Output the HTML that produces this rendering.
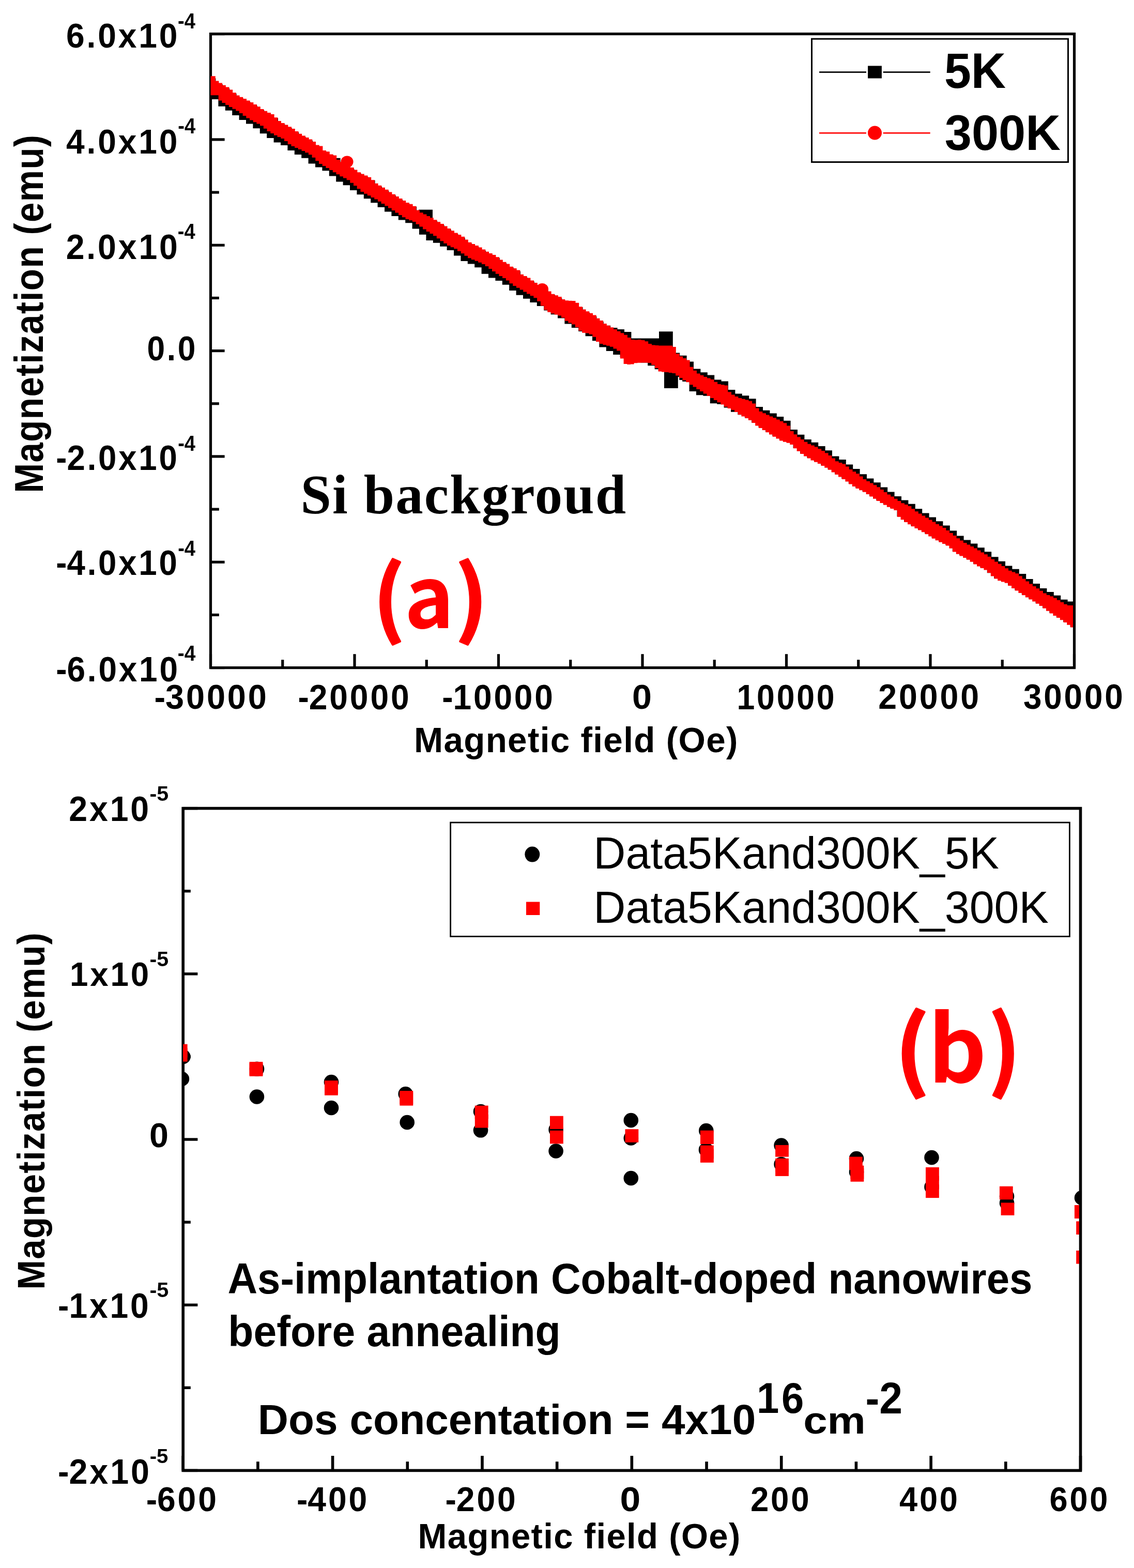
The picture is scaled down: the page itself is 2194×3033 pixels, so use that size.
<!DOCTYPE html>
<html><head><meta charset="utf-8"><title>Magnetization plots</title>
<style>html,body{margin:0;padding:0;background:#fff;}svg{display:block;}</style></head>
<body>
<svg width="2194" height="3033" viewBox="0 0 2194 3033">
<defs>
<clipPath id="ct"><rect x="407.5" y="65.6" width="1668.5" height="1223.4"/></clipPath>
<clipPath id="cb"><rect x="354.2" y="1563.6" width="1733.8" height="1278.2"/></clipPath>
</defs>
<rect width="2194" height="3033" fill="#fff"/>
<rect x="407.5" y="65.6" width="1671.0" height="1226.0" fill="none" stroke="#000" stroke-width="5.2"/>
<rect x="404.90" y="1265.20" width="5.20" height="26.40" fill="#000"/>
<rect x="544.15" y="1276.20" width="5.20" height="15.40" fill="#000"/>
<rect x="683.40" y="1265.20" width="5.20" height="26.40" fill="#000"/>
<rect x="822.65" y="1276.20" width="5.20" height="15.40" fill="#000"/>
<rect x="961.90" y="1265.20" width="5.20" height="26.40" fill="#000"/>
<rect x="1101.15" y="1276.20" width="5.20" height="15.40" fill="#000"/>
<rect x="1240.40" y="1265.20" width="5.20" height="26.40" fill="#000"/>
<rect x="1379.65" y="1276.20" width="5.20" height="15.40" fill="#000"/>
<rect x="1518.90" y="1265.20" width="5.20" height="26.40" fill="#000"/>
<rect x="1658.15" y="1276.20" width="5.20" height="15.40" fill="#000"/>
<rect x="1797.40" y="1265.20" width="5.20" height="26.40" fill="#000"/>
<rect x="1936.65" y="1276.20" width="5.20" height="15.40" fill="#000"/>
<rect x="2075.90" y="1265.20" width="5.20" height="26.40" fill="#000"/>
<rect x="407.50" y="1289.00" width="27.10" height="5.20" fill="#000"/>
<rect x="407.50" y="1186.83" width="16.30" height="5.20" fill="#000"/>
<rect x="407.50" y="1084.67" width="27.10" height="5.20" fill="#000"/>
<rect x="407.50" y="982.50" width="16.30" height="5.20" fill="#000"/>
<rect x="407.50" y="880.33" width="27.10" height="5.20" fill="#000"/>
<rect x="407.50" y="778.17" width="16.30" height="5.20" fill="#000"/>
<rect x="407.50" y="676.00" width="27.10" height="5.20" fill="#000"/>
<rect x="407.50" y="573.83" width="16.30" height="5.20" fill="#000"/>
<rect x="407.50" y="471.67" width="27.10" height="5.20" fill="#000"/>
<rect x="407.50" y="369.50" width="16.30" height="5.20" fill="#000"/>
<rect x="407.50" y="267.33" width="27.10" height="5.20" fill="#000"/>
<rect x="407.50" y="165.17" width="16.30" height="5.20" fill="#000"/>
<rect x="407.50" y="63.00" width="27.10" height="5.20" fill="#000"/>
<rect x="354.2" y="1563.6" width="1736.3" height="1280.8000000000002" fill="none" stroke="#000" stroke-width="5.6"/>
<rect x="351.40" y="2816.00" width="5.60" height="28.40" fill="#000"/>
<rect x="496.09" y="2827.20" width="5.60" height="17.20" fill="#000"/>
<rect x="640.78" y="2816.00" width="5.60" height="28.40" fill="#000"/>
<rect x="785.48" y="2827.20" width="5.60" height="17.20" fill="#000"/>
<rect x="930.17" y="2816.00" width="5.60" height="28.40" fill="#000"/>
<rect x="1074.86" y="2827.20" width="5.60" height="17.20" fill="#000"/>
<rect x="1219.55" y="2816.00" width="5.60" height="28.40" fill="#000"/>
<rect x="1364.24" y="2827.20" width="5.60" height="17.20" fill="#000"/>
<rect x="1508.93" y="2816.00" width="5.60" height="28.40" fill="#000"/>
<rect x="1653.62" y="2827.20" width="5.60" height="17.20" fill="#000"/>
<rect x="1798.32" y="2816.00" width="5.60" height="28.40" fill="#000"/>
<rect x="1943.01" y="2827.20" width="5.60" height="17.20" fill="#000"/>
<rect x="2087.70" y="2816.00" width="5.60" height="28.40" fill="#000"/>
<rect x="354.20" y="2841.70" width="28.20" height="5.40" fill="#000"/>
<rect x="354.20" y="2681.60" width="14.60" height="5.40" fill="#000"/>
<rect x="354.20" y="2521.50" width="28.20" height="5.40" fill="#000"/>
<rect x="354.20" y="2361.40" width="14.60" height="5.40" fill="#000"/>
<rect x="354.20" y="2201.30" width="28.20" height="5.40" fill="#000"/>
<rect x="354.20" y="2041.20" width="14.60" height="5.40" fill="#000"/>
<rect x="354.20" y="1881.10" width="28.20" height="5.40" fill="#000"/>
<rect x="354.20" y="1721.00" width="14.60" height="5.40" fill="#000"/>
<rect x="354.20" y="1560.90" width="28.20" height="5.40" fill="#000"/>
<g clip-path="url(#ct)">
<path d="M400.0,151.5 L417.4,151.5 L417.4,162.9 L430.8,162.9 L430.8,171.1 L444.2,171.1 L444.2,181.1 L457.6,181.1 L457.6,190.4 L471.0,190.4 L471.0,197.1 L484.4,197.1 L484.4,204.4 L497.8,204.4 L497.8,213.1 L511.2,213.1 L511.2,220.7 L524.6,220.7 L524.6,228.6 L538.0,228.6 L538.0,240.5 L551.4,240.5 L551.4,247.8 L564.8,247.8 L564.8,255.9 L578.2,255.9 L578.2,265.0 L591.6,265.0 L591.6,272.1 L605.0,272.1 L605.0,283.3 L618.4,283.3 L618.4,293.2 L631.8,293.2 L631.8,299.8 L645.2,299.8 L645.2,305.7 L658.6,305.7 L658.6,319.4 L672.0,319.4 L672.0,326.7 L685.4,326.7 L685.4,335.4 L698.8,335.4 L698.8,342.3 L712.2,342.3 L712.2,348.8 L725.6,348.8 L725.6,361.1 L739.0,361.1 L739.0,369.2 L752.4,369.2 L752.4,378.1 L765.8,378.1 L765.8,386.4 L779.2,386.4 L779.2,394.5 L792.6,394.5 L792.6,399.8 L806.0,399.8 L806.0,413.4 L819.4,413.4 L819.4,420.5 L832.8,420.5 L832.8,427.6 L846.2,427.6 L846.2,435.6 L859.6,435.6 L859.6,444.2 L873.0,444.2 L873.0,452.7 L886.4,452.7 L886.4,460.3 L899.8,460.3 L899.8,471.3 L913.2,471.3 L913.2,477.8 L926.6,477.8 L926.6,484.9 L940.0,484.9 L940.0,492.7 L953.4,492.7 L953.4,499.1 L966.8,499.1 L966.8,509.3 L980.2,509.3 L980.2,517.3 L993.6,517.3 L993.6,524.8 L1007.0,524.8 L1007.0,536.8 L1020.4,536.8 L1020.4,544.6 L1033.8,544.6 L1033.8,553.3 L1047.2,553.3 L1047.2,561.3 L1060.6,561.3 L1060.6,570.6 L1074.0,570.6 L1074.0,576.9 L1087.4,576.9 L1087.4,585.0 L1100.8,585.0 L1100.8,586.0 L1114.2,586.0 L1114.2,594.3 L1127.6,594.3 L1127.6,604.7 L1141.0,604.7 L1141.0,612.0 L1154.4,612.0 L1154.4,622.2 L1167.8,622.2 L1167.8,629.8 L1181.2,629.8 L1181.2,634.1 L1194.6,634.1 L1194.6,637.1 L1208.0,637.1 L1208.0,641.9 L1221.4,641.9 L1221.4,654.6 L1234.8,654.6 L1234.8,654.6 L1248.2,654.6 L1248.2,654.6 L1261.6,654.6 L1261.6,654.6 L1275.0,654.6 L1275.0,641.2 L1288.4,641.2 L1288.4,641.2 L1301.8,641.2 L1301.8,682.4 L1315.2,682.4 L1315.2,687.7 L1328.6,687.7 L1328.6,699.6 L1342.0,699.6 L1342.0,713.6 L1355.4,713.6 L1355.4,720.2 L1368.8,720.2 L1368.8,725.4 L1382.2,725.4 L1382.2,734.5 L1395.6,734.5 L1395.6,737.6 L1409.0,737.6 L1409.0,753.9 L1422.4,753.9 L1422.4,761.5 L1435.8,761.5 L1435.8,765.3 L1449.2,765.3 L1449.2,771.2 L1462.6,771.2 L1462.6,787.1 L1476.0,787.1 L1476.0,793.8 L1489.4,793.8 L1489.4,799.6 L1502.8,799.6 L1502.8,805.9 L1516.2,805.9 L1516.2,813.7 L1529.6,813.7 L1529.6,830.9 L1543.0,830.9 L1543.0,840.7 L1556.4,840.7 L1556.4,850.1 L1569.8,850.1 L1569.8,855.7 L1583.2,855.7 L1583.2,862.9 L1596.6,862.9 L1596.6,871.3 L1610.0,871.3 L1610.0,882.4 L1623.4,882.4 L1623.4,889.0 L1636.8,889.0 L1636.8,898.4 L1650.2,898.4 L1650.2,907.1 L1663.6,907.1 L1663.6,917.2 L1677.0,917.2 L1677.0,925.5 L1690.4,925.5 L1690.4,933.2 L1703.8,933.2 L1703.8,942.5 L1717.2,942.5 L1717.2,951.5 L1730.6,951.5 L1730.6,959.9 L1744.0,959.9 L1744.0,967.4 L1757.4,967.4 L1757.4,974.8 L1770.8,974.8 L1770.8,984.3 L1784.2,984.3 L1784.2,992.4 L1797.6,992.4 L1797.6,1000.4 L1811.0,1000.4 L1811.0,1008.3 L1824.4,1008.3 L1824.4,1016.4 L1837.8,1016.4 L1837.8,1026.5 L1851.2,1026.5 L1851.2,1036.4 L1864.6,1036.4 L1864.6,1044.6 L1878.0,1044.6 L1878.0,1051.4 L1891.4,1051.4 L1891.4,1059.3 L1904.8,1059.3 L1904.8,1067.2 L1918.2,1067.2 L1918.2,1077.3 L1931.6,1077.3 L1931.6,1085.8 L1945.0,1085.8 L1945.0,1094.5 L1958.4,1094.5 L1958.4,1100.7 L1971.8,1100.7 L1971.8,1109.9 L1985.2,1109.9 L1985.2,1120.1 L1998.6,1120.1 L1998.6,1129.0 L2012.0,1129.0 L2012.0,1138.1 L2025.4,1138.1 L2025.4,1144.9 L2038.8,1144.9 L2038.8,1151.7 L2052.2,1151.7 L2052.2,1159.7 L2065.6,1159.7 L2065.6,1163.5 L2079.0,1163.5 L2079.0,1163.5 L2085.0,1163.5 L2085.0,1217.6 L2084.0,1217.6 L2084.0,1212.6 L2070.6,1212.6 L2070.6,1203.1 L2057.2,1203.1 L2057.2,1194.0 L2043.8,1194.0 L2043.8,1185.5 L2030.4,1185.5 L2030.4,1176.1 L2017.0,1176.1 L2017.0,1166.7 L2003.6,1166.7 L2003.6,1158.4 L1990.2,1158.4 L1990.2,1150.2 L1976.8,1150.2 L1976.8,1141.5 L1963.4,1141.5 L1963.4,1132.3 L1950.0,1132.3 L1950.0,1123.6 L1936.6,1123.6 L1936.6,1118.7 L1923.2,1118.7 L1923.2,1108.2 L1909.8,1108.2 L1909.8,1097.6 L1896.4,1097.6 L1896.4,1090.5 L1883.0,1090.5 L1883.0,1081.3 L1869.6,1081.3 L1869.6,1074.1 L1856.2,1074.1 L1856.2,1066.7 L1842.8,1066.7 L1842.8,1054.1 L1829.4,1054.1 L1829.4,1047.2 L1816.0,1047.2 L1816.0,1040.5 L1802.6,1040.5 L1802.6,1032.0 L1789.2,1032.0 L1789.2,1024.2 L1775.8,1024.2 L1775.8,1016.9 L1762.4,1016.9 L1762.4,1009.0 L1749.0,1009.0 L1749.0,999.3 L1735.6,999.3 L1735.6,982.3 L1722.2,982.3 L1722.2,975.6 L1708.8,975.6 L1708.8,967.8 L1695.4,967.8 L1695.4,959.4 L1682.0,959.4 L1682.0,950.7 L1668.6,950.7 L1668.6,943.4 L1655.2,943.4 L1655.2,935.5 L1641.8,935.5 L1641.8,926.1 L1628.4,926.1 L1628.4,917.2 L1615.0,917.2 L1615.0,907.9 L1601.6,907.9 L1601.6,899.6 L1588.2,899.6 L1588.2,892.3 L1574.8,892.3 L1574.8,885.3 L1561.4,885.3 L1561.4,877.2 L1548.0,877.2 L1548.0,866.7 L1534.6,866.7 L1534.6,854.6 L1521.2,854.6 L1521.2,850.8 L1507.8,850.8 L1507.8,843.5 L1494.4,843.5 L1494.4,835.2 L1481.0,835.2 L1481.0,826.8 L1467.6,826.8 L1467.6,817.5 L1454.2,817.5 L1454.2,807.8 L1440.8,807.8 L1440.8,802.2 L1427.4,802.2 L1427.4,796.8 L1414.0,796.8 L1414.0,788.5 L1400.6,788.5 L1400.6,781.7 L1387.2,781.7 L1387.2,780.2 L1373.8,780.2 L1373.8,765.8 L1360.4,765.8 L1360.4,764.2 L1347.0,764.2 L1347.0,757.0 L1333.6,757.0 L1333.6,738.1 L1320.2,738.1 L1320.2,729.0 L1306.8,729.0 L1306.8,720.1 L1293.4,720.1 L1293.4,719.1 L1280.0,719.1 L1280.0,714.3 L1266.6,714.3 L1266.6,707.2 L1253.2,707.2 L1253.2,701.6 L1239.8,701.6 L1239.8,698.6 L1226.4,698.6 L1226.4,694.5 L1213.0,694.5 L1213.0,690.4 L1199.6,690.4 L1199.6,686.0 L1186.2,686.0 L1186.2,678.9 L1172.8,678.9 L1172.8,671.5 L1159.4,671.5 L1159.4,659.3 L1146.0,659.3 L1146.0,650.3 L1132.6,650.3 L1132.6,641.1 L1119.2,641.1 L1119.2,633.9 L1105.8,633.9 L1105.8,626.6 L1092.4,626.6 L1092.4,615.5 L1079.0,615.5 L1079.0,608.2 L1065.6,608.2 L1065.6,600.6 L1052.2,600.6 L1052.2,591.9 L1038.8,591.9 L1038.8,584.9 L1025.4,584.9 L1025.4,577.7 L1012.0,577.7 L1012.0,570.8 L998.6,570.8 L998.6,561.9 L985.2,561.9 L985.2,550.7 L971.8,550.7 L971.8,542.9 L958.4,542.9 L958.4,537.4 L945.0,537.4 L945.0,529.8 L931.6,529.8 L931.6,517.2 L918.2,517.2 L918.2,510.6 L904.8,510.6 L904.8,505.1 L891.4,505.1 L891.4,494.6 L878.0,494.6 L878.0,483.9 L864.6,483.9 L864.6,476.8 L851.2,476.8 L851.2,469.7 L837.8,469.7 L837.8,465.1 L824.4,465.1 L824.4,453.7 L811.0,453.7 L811.0,442.5 L797.6,442.5 L797.6,431.2 L784.2,431.2 L784.2,425.6 L770.8,425.6 L770.8,417.9 L757.4,417.9 L757.4,409.5 L744.0,409.5 L744.0,400.8 L730.6,400.8 L730.6,392.3 L717.2,392.3 L717.2,384.3 L703.8,384.3 L703.8,376.3 L690.4,376.3 L690.4,368.0 L677.0,368.0 L677.0,358.3 L663.6,358.3 L663.6,351.5 L650.2,351.5 L650.2,340.5 L636.8,340.5 L636.8,330.2 L623.4,330.2 L623.4,323.5 L610.0,323.5 L610.0,316.4 L596.6,316.4 L596.6,305.7 L583.2,305.7 L583.2,299.1 L569.8,299.1 L569.8,291.0 L556.4,291.0 L556.4,280.9 L543.0,280.9 L543.0,275.4 L529.6,275.4 L529.6,267.0 L516.2,267.0 L516.2,258.2 L502.8,258.2 L502.8,248.3 L489.4,248.3 L489.4,239.4 L476.0,239.4 L476.0,231.9 L462.6,231.9 L462.6,223.0 L449.2,223.0 L449.2,213.7 L435.8,213.7 L435.8,205.8 L422.4,205.8 L422.4,192.1 L400.0,192.1Z" fill="#000"/>
<rect x="1285" y="719.2" width="26.8" height="31.7" fill="#000"/>
<rect x="1314.3" y="726.5" width="8.5" height="8.5" fill="#000"/>
<rect x="810" y="405.6" width="27" height="24" fill="#000"/>
<path d="M400.0,147.2 L416.7,147.2 L416.7,156.4 L423.4,156.4 L423.4,160.6 L430.1,160.6 L430.1,164.7 L436.8,164.7 L436.8,168.6 L443.5,168.6 L443.5,173.6 L450.2,173.6 L450.2,179.3 L456.9,179.3 L456.9,184.4 L463.6,184.4 L463.6,187.8 L470.3,187.8 L470.3,191.1 L477.0,191.1 L477.0,194.5 L483.7,194.5 L483.7,198.0 L490.4,198.0 L490.4,202.0 L497.1,202.0 L497.1,206.2 L503.8,206.2 L503.8,211.0 L510.5,211.0 L510.5,214.8 L517.2,214.8 L517.2,217.9 L523.9,217.9 L523.9,221.0 L530.6,221.0 L530.6,227.2 L537.3,227.2 L537.3,233.9 L544.0,233.9 L544.0,238.0 L550.7,238.0 L550.7,241.6 L557.4,241.6 L557.4,245.3 L564.1,245.3 L564.1,248.9 L570.8,248.9 L570.8,254.0 L577.5,254.0 L577.5,258.8 L584.2,258.8 L584.2,262.4 L590.9,262.4 L590.9,265.9 L597.6,265.9 L597.6,269.4 L604.3,269.4 L604.3,274.1 L611.0,274.1 L611.0,280.6 L617.7,280.6 L617.7,282.6 L624.4,282.6 L624.4,290.9 L631.1,290.9 L631.1,293.2 L637.8,293.2 L637.8,298.5 L644.5,298.5 L644.5,300.6 L651.2,300.6 L651.2,308.9 L657.9,308.9 L657.9,313.2 L664.6,313.2 L664.6,316.8 L671.3,316.8 L671.3,320.5 L678.0,320.5 L678.0,324.1 L684.7,324.1 L684.7,328.5 L691.4,328.5 L691.4,333.3 L698.1,333.3 L698.1,336.4 L704.8,336.4 L704.8,339.5 L711.5,339.5 L711.5,342.7 L718.2,342.7 L718.2,348.2 L724.9,348.2 L724.9,354.7 L731.6,354.7 L731.6,358.7 L738.3,358.7 L738.3,362.7 L745.0,362.7 L745.0,366.8 L751.7,366.8 L751.7,371.4 L758.4,371.4 L758.4,375.8 L765.1,375.8 L765.1,380.1 L771.8,380.1 L771.8,384.0 L778.5,384.0 L778.5,388.0 L785.2,388.0 L785.2,392.1 L791.9,392.1 L791.9,394.8 L798.6,394.8 L798.6,398.7 L805.3,398.7 L805.3,406.6 L812.0,406.6 L812.0,411.2 L818.7,411.2 L818.7,414.5 L825.4,414.5 L825.4,417.9 L832.1,417.9 L832.1,421.2 L838.8,421.2 L838.8,425.2 L845.5,425.2 L845.5,429.2 L852.2,429.2 L852.2,433.1 L858.9,433.1 L858.9,437.4 L865.6,437.4 L865.6,442.0 L872.3,442.0 L872.3,446.2 L879.0,446.2 L879.0,450.4 L885.7,450.4 L885.7,454.1 L892.4,454.1 L892.4,457.8 L899.1,457.8 L899.1,463.6 L905.8,463.6 L905.8,468.8 L912.5,468.8 L912.5,471.9 L919.2,471.9 L919.2,475.0 L925.9,475.0 L925.9,478.4 L932.6,478.4 L932.6,482.5 L939.3,482.5 L939.3,486.7 L946.0,486.7 L946.0,489.9 L952.7,489.9 L952.7,493.0 L959.4,493.0 L959.4,497.2 L966.1,497.2 L966.1,502.5 L972.8,502.5 L972.8,506.7 L979.5,506.7 L979.5,510.4 L986.2,510.4 L986.2,515.7 L992.9,515.7 L992.9,519.0 L999.6,519.0 L999.6,522.5 L1006.3,522.5 L1006.3,530.8 L1013.0,530.8 L1013.0,534.1 L1019.7,534.1 L1019.7,537.6 L1026.4,537.6 L1026.4,542.6 L1033.1,542.6 L1033.1,547.0 L1039.8,547.0 L1039.8,550.9 L1046.5,550.9 L1046.5,554.9 L1053.2,554.9 L1053.2,558.9 L1059.9,558.9 L1059.9,563.6 L1066.6,563.6 L1066.6,568.7 L1073.3,568.7 L1073.3,571.3 L1080.0,571.3 L1080.0,574.0 L1086.7,574.0 L1086.7,579.1 L1093.4,579.1 L1093.4,581.2 L1100.1,581.2 L1100.1,581.7 L1106.8,581.7 L1106.8,582.1 L1113.5,582.1 L1113.5,585.8 L1120.2,585.8 L1120.2,593.2 L1126.9,593.2 L1126.9,598.5 L1133.6,598.5 L1133.6,602.2 L1140.3,602.2 L1140.3,605.8 L1147.0,605.8 L1147.0,609.6 L1153.7,609.6 L1153.7,615.8 L1160.4,615.8 L1160.4,619.9 L1167.1,619.9 L1167.1,626.1 L1173.8,626.1 L1173.8,629.7 L1180.5,629.7 L1180.5,633.3 L1187.2,633.3 L1187.2,637.1 L1193.9,637.1 L1193.9,640.7 L1200.6,640.7 L1200.6,644.3 L1207.3,644.3 L1207.3,647.8 L1214.0,647.8 L1214.0,652.9 L1220.7,652.9 L1220.7,656.9 L1227.4,656.9 L1227.4,657.4 L1234.1,657.4 L1234.1,657.1 L1240.8,657.1 L1240.8,657.9 L1247.5,657.9 L1247.5,660.3 L1254.2,660.3 L1254.2,665.1 L1260.9,665.1 L1260.9,667.6 L1267.6,667.6 L1267.6,668.1 L1274.3,668.1 L1274.3,668.5 L1281.0,668.5 L1281.0,668.6 L1287.7,668.6 L1287.7,668.6 L1294.4,668.6 L1294.4,668.6 L1301.1,668.6 L1301.1,671.1 L1307.8,671.1 L1307.8,684.2 L1314.5,684.2 L1314.5,689.3 L1321.2,689.3 L1321.2,692.9 L1327.9,692.9 L1327.9,696.6 L1334.6,696.6 L1334.6,709.8 L1341.3,709.8 L1341.3,716.8 L1348.0,716.8 L1348.0,722.5 L1354.7,722.5 L1354.7,725.7 L1361.4,725.7 L1361.4,728.9 L1368.1,728.9 L1368.1,731.4 L1374.8,731.4 L1374.8,733.9 L1381.5,733.9 L1381.5,738.8 L1388.2,738.8 L1388.2,743.0 L1394.9,743.0 L1394.9,744.3 L1401.6,744.3 L1401.6,745.6 L1408.3,745.6 L1408.3,758.3 L1415.0,758.3 L1415.0,763.4 L1421.7,763.4 L1421.7,766.9 L1428.4,766.9 L1428.4,770.1 L1435.1,770.1 L1435.1,771.8 L1441.8,771.8 L1441.8,773.5 L1448.5,773.5 L1448.5,775.7 L1455.2,775.7 L1455.2,780.6 L1461.9,780.6 L1461.9,789.4 L1468.6,789.4 L1468.6,795.9 L1475.3,795.9 L1475.3,799.3 L1482.0,799.3 L1482.0,802.4 L1488.7,802.4 L1488.7,805.4 L1495.4,805.4 L1495.4,808.3 L1502.1,808.3 L1502.1,811.4 L1508.8,811.4 L1508.8,814.7 L1515.5,814.7 L1515.5,818.3 L1522.2,818.3 L1522.2,823.6 L1528.9,823.6 L1528.9,833.9 L1535.6,833.9 L1535.6,840.3 L1542.3,840.3 L1542.3,845.2 L1549.0,845.2 L1549.0,850.1 L1555.7,850.1 L1555.7,854.8 L1562.4,854.8 L1562.4,858.7 L1569.1,858.7 L1569.1,861.5 L1575.8,861.5 L1575.8,864.6 L1582.5,864.6 L1582.5,868.2 L1589.2,868.2 L1589.2,872.0 L1595.9,872.0 L1595.9,876.3 L1602.6,876.3 L1602.6,880.9 L1609.3,880.9 L1609.3,886.5 L1616.0,886.5 L1616.0,892.2 L1622.7,892.2 L1622.7,895.0 L1629.4,895.0 L1629.4,897.4 L1636.1,897.4 L1636.1,902.6 L1642.8,902.6 L1642.8,908.1 L1649.5,908.1 L1649.5,912.2 L1656.2,912.2 L1656.2,916.2 L1662.9,916.2 L1662.9,921.4 L1669.6,921.4 L1669.6,926.9 L1676.3,926.9 L1676.3,930.8 L1683.0,930.8 L1683.0,934.4 L1689.7,934.4 L1689.7,938.3 L1696.4,938.3 L1696.4,942.3 L1703.1,942.3 L1703.1,947.0 L1709.8,947.0 L1709.8,952.0 L1716.5,952.0 L1716.5,956.5 L1723.2,956.5 L1723.2,960.6 L1729.9,960.6 L1729.9,964.7 L1736.6,964.7 L1736.6,969.1 L1743.3,969.1 L1743.3,973.2 L1750.0,973.2 L1750.0,976.0 L1756.7,976.0 L1756.7,979.1 L1763.4,979.1 L1763.4,984.3 L1770.1,984.3 L1770.1,989.3 L1776.8,989.3 L1776.8,993.4 L1783.5,993.4 L1783.5,997.5 L1790.2,997.5 L1790.2,1001.4 L1796.9,1001.4 L1796.9,1005.4 L1803.6,1005.4 L1803.6,1009.6 L1810.3,1009.6 L1810.3,1013.7 L1817.0,1013.7 L1817.0,1017.3 L1823.7,1017.3 L1823.7,1020.9 L1830.4,1020.9 L1830.4,1025.9 L1837.1,1025.9 L1837.1,1030.9 L1843.8,1030.9 L1843.8,1036.0 L1850.5,1036.0 L1850.5,1041.2 L1857.2,1041.2 L1857.2,1045.6 L1863.9,1045.6 L1863.9,1049.9 L1870.6,1049.9 L1870.6,1053.5 L1877.3,1053.5 L1877.3,1056.9 L1884.0,1056.9 L1884.0,1060.5 L1890.7,1060.5 L1890.7,1064.4 L1897.4,1064.4 L1897.4,1068.4 L1904.1,1068.4 L1904.1,1072.3 L1910.8,1072.3 L1910.8,1076.7 L1917.5,1076.7 L1917.5,1081.7 L1924.2,1081.7 L1924.2,1086.5 L1930.9,1086.5 L1930.9,1090.7 L1937.6,1090.7 L1937.6,1095.0 L1944.3,1095.0 L1944.3,1099.3 L1951.0,1099.3 L1951.0,1103.7 L1957.7,1103.7 L1957.7,1106.5 L1964.4,1106.5 L1964.4,1109.2 L1971.1,1109.2 L1971.1,1114.2 L1977.8,1114.2 L1977.8,1119.5 L1984.5,1119.5 L1984.5,1124.6 L1991.2,1124.6 L1991.2,1129.6 L1997.9,1129.6 L1997.9,1134.0 L2004.6,1134.0 L2004.6,1138.2 L2011.3,1138.2 L2011.3,1142.8 L2018.0,1142.8 L2018.0,1147.4 L2024.7,1147.4 L2024.7,1150.9 L2031.4,1150.9 L2031.4,1153.4 L2038.1,1153.4 L2038.1,1156.8 L2044.8,1156.8 L2044.8,1160.8 L2051.5,1160.8 L2051.5,1164.8 L2058.2,1164.8 L2058.2,1168.8 L2064.9,1168.8 L2064.9,1171.0 L2071.6,1171.0 L2071.6,1171.0 L2078.3,1171.0 L2078.3,1171.0 L2085.0,1171.0 L2085.0,1220.8 L2084.3,1220.8 L2084.3,1218.2 L2077.6,1218.2 L2077.6,1213.5 L2070.9,1213.5 L2070.9,1208.7 L2064.2,1208.7 L2064.2,1203.9 L2057.5,1203.9 L2057.5,1199.2 L2050.8,1199.2 L2050.8,1195.1 L2044.1,1195.1 L2044.1,1190.9 L2037.4,1190.9 L2037.4,1186.4 L2030.7,1186.4 L2030.7,1181.8 L2024.0,1181.8 L2024.0,1176.8 L2017.3,1176.8 L2017.3,1172.0 L2010.6,1172.0 L2010.6,1167.7 L2003.9,1167.7 L2003.9,1163.6 L1997.2,1163.6 L1997.2,1159.6 L1990.5,1159.6 L1990.5,1155.5 L1983.8,1155.5 L1983.8,1151.2 L1977.1,1151.2 L1977.1,1146.9 L1970.4,1146.9 L1970.4,1142.5 L1963.7,1142.5 L1963.7,1138.0 L1957.0,1138.0 L1957.0,1132.9 L1950.3,1132.9 L1950.3,1127.8 L1943.6,1127.8 L1943.6,1125.6 L1936.9,1125.6 L1936.9,1123.3 L1930.2,1123.3 L1930.2,1119.4 L1923.5,1119.4 L1923.5,1114.4 L1916.8,1114.4 L1916.8,1108.0 L1910.1,1108.0 L1910.1,1102.6 L1903.4,1102.6 L1903.4,1099.0 L1896.7,1099.0 L1896.7,1095.4 L1890.0,1095.4 L1890.0,1091.4 L1883.3,1091.4 L1883.3,1086.7 L1876.6,1086.7 L1876.6,1082.7 L1869.9,1082.7 L1869.9,1079.1 L1863.2,1079.1 L1863.2,1075.4 L1856.5,1075.4 L1856.5,1071.7 L1849.8,1071.7 L1849.8,1067.4 L1843.1,1067.4 L1843.1,1060.7 L1836.4,1060.7 L1836.4,1055.4 L1829.7,1055.4 L1829.7,1052.1 L1823.0,1052.1 L1823.0,1048.7 L1816.3,1048.7 L1816.3,1045.3 L1809.6,1045.3 L1809.6,1041.7 L1802.9,1041.7 L1802.9,1037.4 L1796.2,1037.4 L1796.2,1033.2 L1789.5,1033.2 L1789.5,1029.3 L1782.8,1029.3 L1782.8,1025.5 L1776.1,1025.5 L1776.1,1021.9 L1769.4,1021.9 L1769.4,1018.3 L1762.7,1018.3 L1762.7,1014.2 L1756.0,1014.2 L1756.0,1010.1 L1749.3,1010.1 L1749.3,1005.3 L1742.6,1005.3 L1742.6,999.8 L1735.9,999.8 L1735.9,986.9 L1729.2,986.9 L1729.2,983.9 L1722.5,983.9 L1722.5,980.7 L1715.8,980.7 L1715.8,976.8 L1709.1,976.8 L1709.1,972.9 L1702.4,972.9 L1702.4,969.0 L1695.7,969.0 L1695.7,964.8 L1689.0,964.8 L1689.0,960.4 L1682.3,960.4 L1682.3,956.1 L1675.6,956.1 L1675.6,951.7 L1668.9,951.7 L1668.9,948.2 L1662.2,948.2 L1662.2,944.9 L1655.5,944.9 L1655.5,941.1 L1648.8,941.1 L1648.8,936.4 L1642.1,936.4 L1642.1,931.6 L1635.4,931.6 L1635.4,927.0 L1628.7,927.0 L1628.7,922.6 L1622.0,922.6 L1622.0,918.1 L1615.3,918.1 L1615.3,913.5 L1608.6,913.5 L1608.6,908.8 L1601.9,908.8 L1601.9,904.7 L1595.2,904.7 L1595.2,900.9 L1588.5,900.9 L1588.5,897.1 L1581.8,897.1 L1581.8,893.8 L1575.1,893.8 L1575.1,890.4 L1568.4,890.4 L1568.4,886.4 L1561.7,886.4 L1561.7,882.4 L1555.0,882.4 L1555.0,878.1 L1548.3,878.1 L1548.3,872.7 L1541.6,872.7 L1541.6,867.3 L1534.9,867.3 L1534.9,860.0 L1528.2,860.0 L1528.2,856.7 L1521.5,856.7 L1521.5,854.8 L1514.8,854.8 L1514.8,852.5 L1508.1,852.5 L1508.1,848.6 L1501.4,848.6 L1501.4,844.7 L1494.7,844.7 L1494.7,840.5 L1488.0,840.5 L1488.0,836.3 L1481.3,836.3 L1481.3,832.1 L1474.6,832.1 L1474.6,827.9 L1467.9,827.9 L1467.9,823.5 L1461.2,823.5 L1461.2,818.0 L1454.5,818.0 L1454.5,812.7 L1447.8,812.7 L1447.8,809.1 L1441.1,809.1 L1441.1,805.6 L1434.4,805.6 L1434.4,802.0 L1427.7,802.0 L1427.7,797.0 L1421.0,797.0 L1421.0,793.1 L1414.3,793.1 L1414.3,790.0 L1407.6,790.0 L1407.6,786.7 L1400.9,786.7 L1400.9,782.5 L1394.2,782.5 L1394.2,778.3 L1387.5,778.3 L1387.5,774.1 L1380.8,774.1 L1380.8,769.9 L1374.1,769.9 L1374.1,765.7 L1367.4,765.7 L1367.4,761.4 L1360.7,761.4 L1360.7,757.1 L1354.0,757.1 L1354.0,752.9 L1347.3,752.9 L1347.3,748.6 L1340.6,748.6 L1340.6,744.3 L1333.9,744.3 L1333.9,739.2 L1327.2,739.2 L1327.2,735.6 L1320.5,735.6 L1320.5,731.1 L1313.8,731.1 L1313.8,726.4 L1307.1,726.4 L1307.1,722.1 L1300.4,722.1 L1300.4,720.9 L1293.7,720.9 L1293.7,720.0 L1287.0,720.0 L1287.0,719.4 L1280.3,719.4 L1280.3,718.5 L1273.6,718.5 L1273.6,712.1 L1266.9,712.1 L1266.9,706.1 L1260.2,706.1 L1260.2,702.0 L1253.5,702.0 L1253.5,701.5 L1246.8,701.5 L1246.8,701.5 L1240.1,701.5 L1240.1,701.7 L1233.4,701.7 L1233.4,702.2 L1226.7,702.2 L1226.7,704.4 L1220.0,704.4 L1220.0,705.0 L1213.3,705.0 L1213.3,703.9 L1206.6,703.9 L1206.6,693.4 L1199.9,693.4 L1199.9,678.5 L1193.2,678.5 L1193.2,674.6 L1186.5,674.6 L1186.5,670.7 L1179.8,670.7 L1179.8,668.8 L1173.1,668.8 L1173.1,667.0 L1166.4,667.0 L1166.4,664.9 L1159.7,664.9 L1159.7,661.1 L1153.0,661.1 L1153.0,651.8 L1146.3,651.8 L1146.3,646.7 L1139.6,646.7 L1139.6,644.6 L1132.9,644.6 L1132.9,643.7 L1126.2,643.7 L1126.2,639.7 L1119.5,639.7 L1119.5,633.0 L1112.8,633.0 L1112.8,627.6 L1106.1,627.6 L1106.1,624.4 L1099.4,624.4 L1099.4,620.8 L1092.7,620.8 L1092.7,614.6 L1086.0,614.6 L1086.0,610.4 L1079.3,610.4 L1079.3,608.5 L1072.6,608.5 L1072.6,606.6 L1065.9,606.6 L1065.9,603.8 L1059.2,603.8 L1059.2,599.6 L1052.5,599.6 L1052.5,591.5 L1045.8,591.5 L1045.8,582.8 L1039.1,582.8 L1039.1,576.2 L1032.4,576.2 L1032.4,572.3 L1025.7,572.3 L1025.7,568.4 L1019.0,568.4 L1019.0,564.4 L1012.3,564.4 L1012.3,560.5 L1005.6,560.5 L1005.6,556.7 L998.9,556.7 L998.9,553.0 L992.2,553.0 L992.2,548.3 L985.5,548.3 L985.5,542.5 L978.8,542.5 L978.8,538.1 L972.1,538.1 L972.1,534.1 L965.4,534.1 L965.4,529.7 L958.7,529.7 L958.7,524.9 L952.0,524.9 L952.0,520.0 L945.3,520.0 L945.3,515.1 L938.6,515.1 L938.6,511.0 L931.9,511.0 L931.9,507.7 L925.2,507.7 L925.2,504.7 L918.5,504.7 L918.5,502.3 L911.8,502.3 L911.8,499.2 L905.1,499.2 L905.1,494.7 L898.4,494.7 L898.4,490.3 L891.7,490.3 L891.7,485.8 L885.0,485.8 L885.0,481.3 L878.3,481.3 L878.3,478.2 L871.6,478.2 L871.6,475.1 L864.9,475.1 L864.9,470.8 L858.2,470.8 L858.2,466.3 L851.5,466.3 L851.5,461.3 L844.8,461.3 L844.8,456.2 L838.1,456.2 L838.1,451.9 L831.4,451.9 L831.4,447.9 L824.7,447.9 L824.7,443.4 L818.0,443.4 L818.0,438.6 L811.3,438.6 L811.3,433.8 L804.6,433.8 L804.6,429.0 L797.9,429.0 L797.9,426.2 L791.2,426.2 L791.2,424.0 L784.5,424.0 L784.5,420.3 L777.8,420.3 L777.8,415.9 L771.1,415.9 L771.1,411.4 L764.4,411.4 L764.4,407.0 L757.7,407.0 L757.7,402.5 L751.0,402.5 L751.0,398.2 L744.3,398.2 L744.3,394.0 L737.6,394.0 L737.6,389.7 L730.9,389.7 L730.9,385.6 L724.2,385.6 L724.2,382.0 L717.5,382.0 L717.5,378.3 L710.8,378.3 L710.8,374.7 L704.1,374.7 L704.1,371.1 L697.4,371.1 L697.4,365.3 L690.7,365.3 L690.7,359.3 L684.0,359.3 L684.0,353.8 L677.3,353.8 L677.3,348.2 L670.6,348.2 L670.6,344.6 L663.9,344.6 L663.9,341.2 L657.2,341.2 L657.2,337.3 L650.5,337.3 L650.5,333.2 L643.8,333.2 L643.8,329.1 L637.1,329.1 L637.1,325.0 L630.4,325.0 L630.4,321.0 L623.7,321.0 L623.7,317.0 L617.0,317.0 L617.0,311.3 L610.3,311.3 L610.3,304.8 L603.6,304.8 L603.6,299.3 L596.9,299.3 L596.9,295.3 L590.2,295.3 L590.2,291.9 L583.5,291.9 L583.5,289.1 L576.8,289.1 L576.8,286.1 L570.1,286.1 L570.1,282.8 L563.4,282.8 L563.4,279.1 L556.7,279.1 L556.7,273.1 L550.0,273.1 L550.0,268.0 L543.3,268.0 L543.3,264.9 L536.6,264.9 L536.6,261.7 L529.9,261.7 L529.9,257.9 L523.2,257.9 L523.2,254.0 L516.5,254.0 L516.5,248.8 L509.8,248.8 L509.8,243.3 L503.1,243.3 L503.1,239.5 L496.4,239.5 L496.4,236.2 L489.7,236.2 L489.7,232.5 L483.0,232.5 L483.0,228.5 L476.3,228.5 L476.3,223.9 L469.6,223.9 L469.6,219.1 L462.9,219.1 L462.9,214.5 L456.2,214.5 L456.2,210.8 L449.5,210.8 L449.5,207.1 L442.8,207.1 L442.8,203.1 L436.1,203.1 L436.1,199.0 L429.4,199.0 L429.4,194.5 L422.7,194.5 L422.7,184.3 L400.0,184.3Z" fill="#ff0000"/>
<ellipse cx="671.5" cy="313" rx="12.0" ry="11.5" fill="#ff0000"/>
<ellipse cx="1049" cy="559.5" rx="12.0" ry="11.5" fill="#ff0000"/>
</g>
<g clip-path="url(#cb)">
<circle cx="354.4" cy="2044" r="14.3" fill="#000"/>
<circle cx="351.9" cy="2087" r="14.3" fill="#000"/>
<circle cx="497" cy="2067.7" r="14.3" fill="#000"/>
<circle cx="496.9" cy="2121.5" r="14.3" fill="#000"/>
<circle cx="641" cy="2093" r="14.3" fill="#000"/>
<circle cx="641" cy="2143" r="14.3" fill="#000"/>
<circle cx="784.7" cy="2116" r="14.3" fill="#000"/>
<circle cx="787.7" cy="2171" r="14.3" fill="#000"/>
<circle cx="930" cy="2150" r="14.3" fill="#000"/>
<circle cx="930" cy="2186.3" r="14.3" fill="#000"/>
<circle cx="1075.6" cy="2185" r="14.3" fill="#000"/>
<circle cx="1075.6" cy="2226.5" r="14.3" fill="#000"/>
<circle cx="1220.8" cy="2167" r="14.3" fill="#000"/>
<circle cx="1220.8" cy="2201.5" r="14.3" fill="#000"/>
<circle cx="1220.8" cy="2279" r="14.3" fill="#000"/>
<circle cx="1366.3" cy="2187" r="14.3" fill="#000"/>
<circle cx="1366" cy="2224" r="14.3" fill="#000"/>
<circle cx="1511.6" cy="2215.5" r="14.3" fill="#000"/>
<circle cx="1511.6" cy="2252" r="14.3" fill="#000"/>
<circle cx="1657" cy="2241" r="14.3" fill="#000"/>
<circle cx="1657" cy="2267" r="14.3" fill="#000"/>
<circle cx="1802.5" cy="2239" r="14.3" fill="#000"/>
<circle cx="1802.5" cy="2296" r="14.3" fill="#000"/>
<circle cx="1948" cy="2314" r="14.3" fill="#000"/>
<circle cx="1948" cy="2327" r="14.3" fill="#000"/>
<circle cx="2093" cy="2317" r="14.3" fill="#000"/>
<circle cx="2099" cy="2372" r="14.3" fill="#000"/>
<rect x="336.8" y="2019.7" width="25.8" height="25.8" fill="#ff0000"/>
<rect x="336.8" y="2027.7" width="25.8" height="25.8" fill="#ff0000"/>
<rect x="482.6" y="2053.9" width="25.8" height="25.8" fill="#ff0000"/>
<rect x="482.6" y="2056" width="25.8" height="25.8" fill="#ff0000"/>
<rect x="628" y="2090.1" width="25.8" height="25.9" fill="#ff0000"/>
<rect x="628" y="2092.8" width="25.8" height="25.9" fill="#ff0000"/>
<rect x="773.4" y="2110" width="25.8" height="26.0" fill="#ff0000"/>
<rect x="773.4" y="2112.6" width="25.8" height="26.0" fill="#ff0000"/>
<rect x="918.8" y="2138.6" width="25.8" height="25.8" fill="#ff0000"/>
<rect x="918.8" y="2155.7" width="25.8" height="25.8" fill="#ff0000"/>
<rect x="1064" y="2158.7" width="25.8" height="25.2" fill="#ff0000"/>
<rect x="1064" y="2186.8" width="25.8" height="25.5" fill="#ff0000"/>
<rect x="1209.5" y="2184.2" width="25.8" height="25.5" fill="#ff0000"/>
<rect x="1355" y="2186.7" width="25.8" height="26.3" fill="#ff0000"/>
<rect x="1355" y="2215.5" width="25.8" height="25.8" fill="#ff0000"/>
<rect x="1355" y="2223" width="25.8" height="25.8" fill="#ff0000"/>
<rect x="1500.1" y="2214.9" width="25.8" height="22.7" fill="#ff0000"/>
<rect x="1500.1" y="2240.7" width="25.8" height="25.8" fill="#ff0000"/>
<rect x="1500.1" y="2249" width="25.8" height="25.9" fill="#ff0000"/>
<rect x="1643" y="2237.5" width="25.8" height="25.5" fill="#ff0000"/>
<rect x="1645.5" y="2254.6" width="25.8" height="25.8" fill="#ff0000"/>
<rect x="1645.5" y="2259.9" width="25.8" height="25.8" fill="#ff0000"/>
<rect x="1791" y="2257.9" width="25.8" height="25.8" fill="#ff0000"/>
<rect x="1791" y="2274.6" width="25.8" height="25.8" fill="#ff0000"/>
<rect x="1791" y="2291.3" width="25.8" height="25.8" fill="#ff0000"/>
<rect x="1933.9" y="2294.7" width="25.8" height="25.6" fill="#ff0000"/>
<rect x="1936.6" y="2326.4" width="25.8" height="24.4" fill="#ff0000"/>
<rect x="2078.9" y="2331" width="25.8" height="26.0" fill="#ff0000"/>
<rect x="2082.2" y="2362.4" width="25.8" height="25.6" fill="#ff0000"/>
<rect x="2082.2" y="2419" width="25.8" height="25.6" fill="#ff0000"/>
</g>

<rect x="1570.5" y="75.2" width="496" height="238.3" fill="#fff" stroke="#000" stroke-width="3"/>
<rect x="1585" y="138.2" width="91" height="2.7" fill="#000"/>
<rect x="1708.7" y="138.2" width="91" height="2.7" fill="#000"/>
<rect x="1679.1" y="127.4" width="26.8" height="24.1" fill="#000"/>
<rect x="1585" y="256" width="91" height="2.6" fill="#ff0000"/>
<rect x="1708.7" y="256" width="91" height="2.6" fill="#ff0000"/>
<ellipse cx="1692.5" cy="257" rx="13.5" ry="13.5" fill="#ff0000"/>
<rect x="871.6" y="1591" width="1197.8" height="220.4" fill="#fff" stroke="#000" stroke-width="2.8"/>
<ellipse cx="1029.8" cy="1652.6" rx="14.5" ry="15" fill="#000"/>
<rect x="1018" y="1744.5" width="26.3" height="25.5" fill="#ff0000"/>

<text transform="matrix(0.64177,0.00000,0.00000,0.67465,127.93293,92.02535)" font-family="'Liberation Sans', Arial, sans-serif" font-weight="bold" font-size="100" letter-spacing="6" fill="#000">6.0x10</text>
<text transform="matrix(0.64121,0.00000,0.00000,0.66901,128.11758,297.43099)" font-family="'Liberation Sans', Arial, sans-serif" font-weight="bold" font-size="100" letter-spacing="6" fill="#000">4.0x10</text>
<text transform="matrix(0.64377,0.00000,0.00000,0.68169,127.66869,501.21831)" font-family="'Liberation Sans', Arial, sans-serif" font-weight="bold" font-size="100" letter-spacing="6" fill="#000">2.0x10</text>
<text transform="matrix(0.62308,0.00000,0.00000,0.66761,284.40769,696.53239)" font-family="'Liberation Sans', Arial, sans-serif" font-weight="bold" font-size="100" letter-spacing="6" fill="#000">0.0</text>
<text transform="matrix(0.63518,0.00000,0.00000,0.68310,108.35928,908.81690)" font-family="'Liberation Sans', Arial, sans-serif" font-weight="bold" font-size="100" letter-spacing="6" fill="#000"><tspan letter-spacing="0">-</tspan><tspan letter-spacing="6">2.0x10</tspan></text>
<text transform="matrix(0.63518,0.00000,0.00000,0.67746,108.35928,1112.12254)" font-family="'Liberation Sans', Arial, sans-serif" font-weight="bold" font-size="100" letter-spacing="6" fill="#000"><tspan letter-spacing="0">-</tspan><tspan letter-spacing="6">4.0x10</tspan></text>
<text transform="matrix(0.63906,0.00000,0.00000,0.68028,108.14377,1318.01972)" font-family="'Liberation Sans', Arial, sans-serif" font-weight="bold" font-size="100" letter-spacing="6" fill="#000"><tspan letter-spacing="0">-</tspan><tspan letter-spacing="6">6.0x10</tspan></text>
<text transform="matrix(0.38095,0.00000,0.00000,0.42609,343.97619,55.00000)" font-family="'Liberation Sans', Arial, sans-serif" font-weight="bold" font-size="100" letter-spacing="6" fill="#000"><tspan letter-spacing="0">-</tspan><tspan letter-spacing="6">4</tspan></text>
<text transform="matrix(0.38095,0.00000,0.00000,0.42464,344.27619,258.40000)" font-family="'Liberation Sans', Arial, sans-serif" font-weight="bold" font-size="100" letter-spacing="6" fill="#000"><tspan letter-spacing="0">-</tspan><tspan letter-spacing="6">4</tspan></text>
<text transform="matrix(0.38095,0.00000,0.00000,0.42319,343.77619,461.90000)" font-family="'Liberation Sans', Arial, sans-serif" font-weight="bold" font-size="100" letter-spacing="6" fill="#000"><tspan letter-spacing="0">-</tspan><tspan letter-spacing="6">4</tspan></text>
<text transform="matrix(0.38095,0.00000,0.00000,0.42464,344.17619,872.00000)" font-family="'Liberation Sans', Arial, sans-serif" font-weight="bold" font-size="100" letter-spacing="6" fill="#000"><tspan letter-spacing="0">-</tspan><tspan letter-spacing="6">4</tspan></text>
<text transform="matrix(0.38095,0.00000,0.00000,0.42174,344.17619,1075.30000)" font-family="'Liberation Sans', Arial, sans-serif" font-weight="bold" font-size="100" letter-spacing="6" fill="#000"><tspan letter-spacing="0">-</tspan><tspan letter-spacing="6">4</tspan></text>
<text transform="matrix(0.38810,0.00000,0.00000,0.42464,343.74762,1278.40000)" font-family="'Liberation Sans', Arial, sans-serif" font-weight="bold" font-size="100" letter-spacing="6" fill="#000"><tspan letter-spacing="0">-</tspan><tspan letter-spacing="6">4</tspan></text>
<text transform="matrix(0.64832,0.00000,0.00000,0.66761,298.40673,1371.33239)" font-family="'Liberation Sans', Arial, sans-serif" font-weight="bold" font-size="100" letter-spacing="6" fill="#000"><tspan letter-spacing="0">-</tspan><tspan letter-spacing="6">30000</tspan></text>
<text transform="matrix(0.64159,0.00000,0.00000,0.68592,576.43364,1371.51408)" font-family="'Liberation Sans', Arial, sans-serif" font-weight="bold" font-size="100" letter-spacing="6" fill="#000"><tspan letter-spacing="0">-</tspan><tspan letter-spacing="6">20000</tspan></text>
<text transform="matrix(0.63976,0.00000,0.00000,0.68592,855.24098,1371.51408)" font-family="'Liberation Sans', Arial, sans-serif" font-weight="bold" font-size="100" letter-spacing="6" fill="#000"><tspan letter-spacing="0">-</tspan><tspan letter-spacing="6">10000</tspan></text>
<text transform="matrix(0.68298,0.00000,0.00000,0.67465,1223.06809,1371.22535)" font-family="'Liberation Sans', Arial, sans-serif" font-weight="bold" font-size="100" letter-spacing="6" fill="#000">0</text>
<text transform="matrix(0.62568,0.00000,0.00000,0.68310,1425.54589,1371.51690)" font-family="'Liberation Sans', Arial, sans-serif" font-weight="bold" font-size="100" letter-spacing="6" fill="#000">10000</text>
<text transform="matrix(0.64441,0.00000,0.00000,0.68732,1699.36678,1371.31268)" font-family="'Liberation Sans', Arial, sans-serif" font-weight="bold" font-size="100" letter-spacing="6" fill="#000">20000</text>
<text transform="matrix(0.63784,0.00000,0.00000,0.68732,1980.02432,1371.31268)" font-family="'Liberation Sans', Arial, sans-serif" font-weight="bold" font-size="100" letter-spacing="6" fill="#000">30000</text>
<text transform="matrix(0.67323,0.00000,0.00000,0.68841,800.98738,1454.70000)" font-family="'Liberation Sans', Arial, sans-serif" font-weight="bold" font-size="100" letter-spacing="2" fill="#000">Magnetic field (Oe)</text>
<text transform="matrix(0.00000,-0.69082,0.77101,0.00000,83.10000,953.43572)" font-family="'Liberation Sans', Arial, sans-serif" font-weight="bold" font-size="100" letter-spacing="2" fill="#000">Magnetization (emu)</text>
<text transform="matrix(0.93252,0.00000,0.00000,0.96857,1826.90244,170.43143)" font-family="'Liberation Sans', Arial, sans-serif" font-weight="bold" font-size="100" letter-spacing="0" fill="#000">5K</text>
<text transform="matrix(0.93771,0.00000,0.00000,0.95775,1827.82458,290.04225)" font-family="'Liberation Sans', Arial, sans-serif" font-weight="bold" font-size="100" letter-spacing="0" fill="#000">300K</text>
<text transform="matrix(1.06764,0.00000,0.00000,1.08556,581.56182,993.00333)" font-family="'Liberation Serif', 'Times New Roman', serif" font-weight="bold" font-size="100" letter-spacing="2" fill="#000">Si backgroud</text>
<text transform="matrix(1.57826,0.00000,0.00000,1.60194,722.79565,1214.96117)" font-family="'Noto Sans CJK JP', sans-serif" font-weight="bold" font-size="100" letter-spacing="0" fill="#ff0000" stroke="#ff0000" stroke-width="2.52" stroke-linejoin="round">(</text>
<text transform="matrix(1.62553,0.00000,0.00000,1.65172,782.57234,1215.14828)" font-family="'Noto Sans CJK JP', sans-serif" font-weight="bold" font-size="100" letter-spacing="0" fill="#ff0000">a</text>
<text transform="matrix(1.62083,0.00000,0.00000,1.60194,881.79583,1214.96117)" font-family="'Noto Sans CJK JP', sans-serif" font-weight="bold" font-size="100" letter-spacing="0" fill="#ff0000" stroke="#ff0000" stroke-width="2.48" stroke-linejoin="round">)</text>
<text transform="matrix(0.64378,0.00000,0.00000,0.67746,133.36867,1588.22254)" font-family="'Liberation Sans', Arial, sans-serif" font-weight="bold" font-size="100" letter-spacing="6" fill="#000">2x10</text>
<text transform="matrix(0.63696,0.00000,0.00000,0.65493,134.97826,1906.84507)" font-family="'Liberation Sans', Arial, sans-serif" font-weight="bold" font-size="100" letter-spacing="6" fill="#000">1x10</text>
<text transform="matrix(0.66383,0.00000,0.00000,0.65915,288.94468,2219.14085)" font-family="'Liberation Sans', Arial, sans-serif" font-weight="bold" font-size="100" letter-spacing="6" fill="#000">0</text>
<text transform="matrix(0.64173,0.00000,0.00000,0.68169,112.03308,2549.01831)" font-family="'Liberation Sans', Arial, sans-serif" font-weight="bold" font-size="100" letter-spacing="6" fill="#000"><tspan letter-spacing="0">-</tspan><tspan letter-spacing="6">1x10</tspan></text>
<text transform="matrix(0.64624,0.00000,0.00000,0.67887,112.01504,2869.52113)" font-family="'Liberation Sans', Arial, sans-serif" font-weight="bold" font-size="100" letter-spacing="6" fill="#000"><tspan letter-spacing="0">-</tspan><tspan letter-spacing="6">2x10</tspan></text>
<text transform="matrix(0.41341,0.00000,0.00000,0.40714,289.54634,1549.09286)" font-family="'Liberation Sans', Arial, sans-serif" font-weight="bold" font-size="100" letter-spacing="6" fill="#000"><tspan letter-spacing="0">-</tspan><tspan letter-spacing="6">5</tspan></text>
<text transform="matrix(0.41341,0.00000,0.00000,0.40286,289.54634,1869.29714)" font-family="'Liberation Sans', Arial, sans-serif" font-weight="bold" font-size="100" letter-spacing="6" fill="#000"><tspan letter-spacing="0">-</tspan><tspan letter-spacing="6">5</tspan></text>
<text transform="matrix(0.41585,0.00000,0.00000,0.40286,289.43659,2509.29714)" font-family="'Liberation Sans', Arial, sans-serif" font-weight="bold" font-size="100" letter-spacing="6" fill="#000"><tspan letter-spacing="0">-</tspan><tspan letter-spacing="6">5</tspan></text>
<text transform="matrix(0.40244,0.00000,0.00000,0.39429,289.69024,2829.60571)" font-family="'Liberation Sans', Arial, sans-serif" font-weight="bold" font-size="100" letter-spacing="6" fill="#000"><tspan letter-spacing="0">-</tspan><tspan letter-spacing="6">5</tspan></text>
<text transform="matrix(0.64265,0.00000,0.00000,0.66901,282.62941,2923.13099)" font-family="'Liberation Sans', Arial, sans-serif" font-weight="bold" font-size="100" letter-spacing="6" fill="#000"><tspan letter-spacing="0">-</tspan><tspan letter-spacing="6">600</tspan></text>
<text transform="matrix(0.64216,0.00000,0.00000,0.66901,573.93137,2923.13099)" font-family="'Liberation Sans', Arial, sans-serif" font-weight="bold" font-size="100" letter-spacing="6" fill="#000"><tspan letter-spacing="0">-</tspan><tspan letter-spacing="6">400</tspan></text>
<text transform="matrix(0.64216,0.00000,0.00000,0.66901,861.43137,2923.13099)" font-family="'Liberation Sans', Arial, sans-serif" font-weight="bold" font-size="100" letter-spacing="6" fill="#000"><tspan letter-spacing="0">-</tspan><tspan letter-spacing="6">200</tspan></text>
<text transform="matrix(0.71489,0.00000,0.00000,0.66901,1199.54043,2923.13099)" font-family="'Liberation Sans', Arial, sans-serif" font-weight="bold" font-size="100" letter-spacing="6" fill="#000">0</text>
<text transform="matrix(0.63605,0.00000,0.00000,0.66901,1451.89186,2923.13099)" font-family="'Liberation Sans', Arial, sans-serif" font-weight="bold" font-size="100" letter-spacing="6" fill="#000">200</text>
<text transform="matrix(0.63237,0.00000,0.00000,0.66901,1739.93526,2923.13099)" font-family="'Liberation Sans', Arial, sans-serif" font-weight="bold" font-size="100" letter-spacing="6" fill="#000">400</text>
<text transform="matrix(0.63158,0.00000,0.00000,0.66901,2030.47368,2923.13099)" font-family="'Liberation Sans', Arial, sans-serif" font-weight="bold" font-size="100" letter-spacing="6" fill="#000">600</text>
<text transform="matrix(0.67029,0.00000,0.00000,0.69275,808.60794,2994.80000)" font-family="'Liberation Sans', Arial, sans-serif" font-weight="bold" font-size="100" letter-spacing="2" fill="#000">Magnetic field (Oe)</text>
<text transform="matrix(0.00000,-0.68880,0.74203,0.00000,86.10000,2494.52159)" font-family="'Liberation Sans', Arial, sans-serif" font-weight="bold" font-size="100" letter-spacing="2" fill="#000">Magnetization (emu)</text>
<text transform="matrix(0.86064,0.00000,0.00000,0.86522,1148.31486,1680.00000)" font-family="'Liberation Sans', Arial, sans-serif" font-weight="normal" font-size="100" letter-spacing="0" fill="#000">Data5Kand300K_5K</text>
<text transform="matrix(0.86075,0.00000,0.00000,0.86232,1148.31400,1784.50000)" font-family="'Liberation Sans', Arial, sans-serif" font-weight="normal" font-size="100" letter-spacing="0" fill="#000">Data5Kand300K_300K</text>
<text transform="matrix(0.79866,0.00000,0.00000,0.84058,440.40401,2501.50000)" font-family="'Liberation Sans', Arial, sans-serif" font-weight="bold" font-size="100" letter-spacing="0" fill="#000">As-implantation Cobalt-doped nanowires</text>
<text transform="matrix(0.80407,0.00000,0.00000,0.84058,441.37150,2603.90000)" font-family="'Liberation Sans', Arial, sans-serif" font-weight="bold" font-size="100" letter-spacing="0" fill="#000">before annealing</text>
<text transform="matrix(0.81976,0.00000,0.00000,0.81449,498.86168,2773.60000)" font-family="'Liberation Sans', Arial, sans-serif" font-weight="bold" font-size="100" letter-spacing="0" fill="#000">Dos concentation = 4x10</text>
<text transform="matrix(0.77850,0.00000,0.00000,0.83380,1464.02897,2733.06620)" font-family="'Liberation Sans', Arial, sans-serif" font-weight="bold" font-size="100" letter-spacing="6" fill="#000">16</text>
<text transform="matrix(0.83507,0.00000,0.00000,0.74727,1554.15970,2772.65273)" font-family="'Liberation Sans', Arial, sans-serif" font-weight="bold" font-size="100" letter-spacing="0" fill="#000">cm</text>
<text transform="matrix(0.80494,0.00000,0.00000,0.84571,1674.38025,2733.90000)" font-family="'Liberation Sans', Arial, sans-serif" font-weight="bold" font-size="100" letter-spacing="6" fill="#000"><tspan letter-spacing="0">-</tspan><tspan letter-spacing="6">2</tspan></text>
<text transform="matrix(1.73478,0.00000,0.00000,1.68252,1732.08696,2091.14951)" font-family="'Noto Sans CJK JP', sans-serif" font-weight="bold" font-size="100" letter-spacing="0" fill="#ff0000" stroke="#ff0000" stroke-width="2.34" stroke-linejoin="round">(</text>
<text transform="matrix(1.75577,0.00000,0.00000,1.78375,1795.65385,2093.91625)" font-family="'Noto Sans CJK JP', sans-serif" font-weight="bold" font-size="100" letter-spacing="0" fill="#ff0000">b</text>
<text transform="matrix(1.58333,0.00000,0.00000,1.68252,1913.48333,2091.14951)" font-family="'Noto Sans CJK JP', sans-serif" font-weight="bold" font-size="100" letter-spacing="0" fill="#ff0000" stroke="#ff0000" stroke-width="2.45" stroke-linejoin="round">)</text>
</svg>
</body></html>
